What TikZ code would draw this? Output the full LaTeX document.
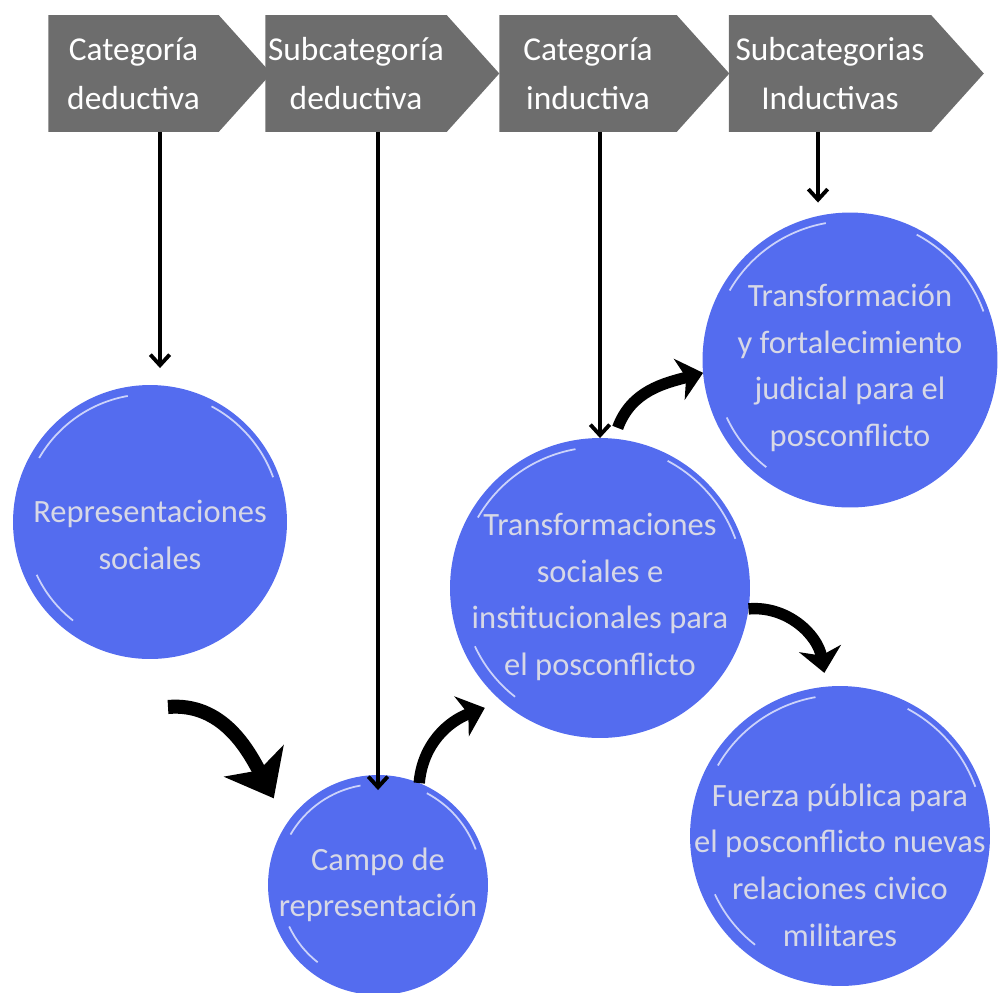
\documentclass[tikz,border=0pt]{standalone}
\usepackage{fontspec}
\setmainfont{Carlito}
\usetikzlibrary{shapes.symbols,arrows.meta,calc}
\definecolor{chevgray}{HTML}{6D6D6D}
\definecolor{brushblue}{HTML}{546CEF}
\definecolor{paletext}{HTML}{D7D8E6}
\tikzset{
  chevron/.style={signal, signal to=east, signal pointer angle=96, fill=chevgray,
    minimum height=2.34cm, inner sep=0pt, outer sep=0pt, text=white, align=center,
    font=\fontsize{19}{28}\selectfont},
  blob/.style={circle, fill=brushblue, inner sep=0pt, outer sep=0pt},
  blobtext/.style={text=paletext, align=center, inner sep=0pt, font=\fontsize{18.5}{26.5}\selectfont},
  down/.style={line width=2.2pt, -{Straight Barb[length=6pt,width=11pt]}},
  swoop/.style={line width=6.5pt, -{Stealth[length=14pt,width=24pt,inset=4pt]}},
  streak/.style={white, line width=1pt, opacity=0.7}
}
\begin{document}
\begin{tikzpicture}[x=0.02cm, y=0.02cm]
    \useasboundingbox (0,0) rectangle (1000,-992);

    % top chevrons
    \node[chevron, minimum width=4.46cm] (catded) at (133.5,-73.5) {Categoría\\deductiva};
    \node[chevron, minimum width=4.68cm] (catsub) at (356,-73.5) {Subcategoría\\deductiva};
    \node[chevron, minimum width=4.6cm] (catind) at (588,-73.5) {Categoría\\inductiva};
    \node[chevron, minimum width=5.1cm] (subind) at (830,-73.5) {Subcategorias\\Inductivas};

    % circles
    \node[blob, minimum size=5.48cm] (rep) at (150,-522) {};
    \node[blob, minimum size=4.4cm] (campo) at (378,-885) {};
    \node[blob, minimum size=6cm] (trans) at (600,-588) {};
    \node[blob, minimum size=5.9cm] (judicial) at (850,-360) {};
    \node[blob, minimum size=6cm] (fuerza) at (840,-836) {};

    % brush streaks
    \foreach \n/\r in {rep/137,campo/110,trans/150,judicial/148,fuerza/150}{
        \draw[streak] ($(\n.center)+(100:{\r-9})$) arc[start angle=100,end angle=150,radius=\r-9];
        \draw[streak] ($(\n.center)+(20:{\r-6})$) arc[start angle=20,end angle=62,radius=\r-6];
        \draw[streak] ($(\n.center)+(205:{\r-12})$) arc[start angle=205,end angle=232,radius=\r-12];
    }

    % circle texts
    \node[blobtext] (reptext) at ([yshift=-0.26cm]rep) {Representaciones\\sociales};
    \node[blobtext] (campotext) at (campo) {Campo de\\representación};
    \node[blobtext] (transtext) at ([yshift=-0.18cm]trans) {Transformaciones\\sociales e\\institucionales para\\el posconflicto};
    \node[blobtext] (judicialtext) at ([yshift=-0.16cm]judicial) {Transformación\\y fortalecimiento\\judicial para el\\posconflicto};
    \node[blobtext] (fuerzatext) at ([yshift=-0.58cm]fuerza) {Fuerza pública para\\el posconflicto nuevas\\relaciones civico\\militares};

    % vertical arrows
    \draw[down] ([xshift=0.2cm]rep.north |- catded.south) -- ([xshift=0.2cm,yshift=0.34cm]rep.north);
    \draw[down] (campo.north |- catsub.south) -- ([yshift=-0.3cm]campo.north);
    \draw[down] (trans.north |- catind.south) -- (trans.north);
    \draw[down] ([xshift=-0.64cm]judicial.north |- subind.south) -- ([xshift=-0.64cm,yshift=0.2cm]judicial.north);

    % curved arrows
    \draw[swoop, line width=8pt, -{Stealth[length=24pt,width=38pt,inset=6pt]}]
        ($(rep.south)+(18,-48)$) to[out=5,in=118] ($(campo.140)+(-20,16)$);
    \draw[swoop] (campo.68) to[out=85,in=200] ($(trans.226)+(-11,-12)$);
    \draw[swoop] ($(trans.84)+(2,11)$) to[out=70,in=195] (judicial.185);
    \draw[swoop] (trans.-8) to[out=5,in=100] ($(fuerza.96)+(0,14)$);
\end{tikzpicture}
\end{document}
